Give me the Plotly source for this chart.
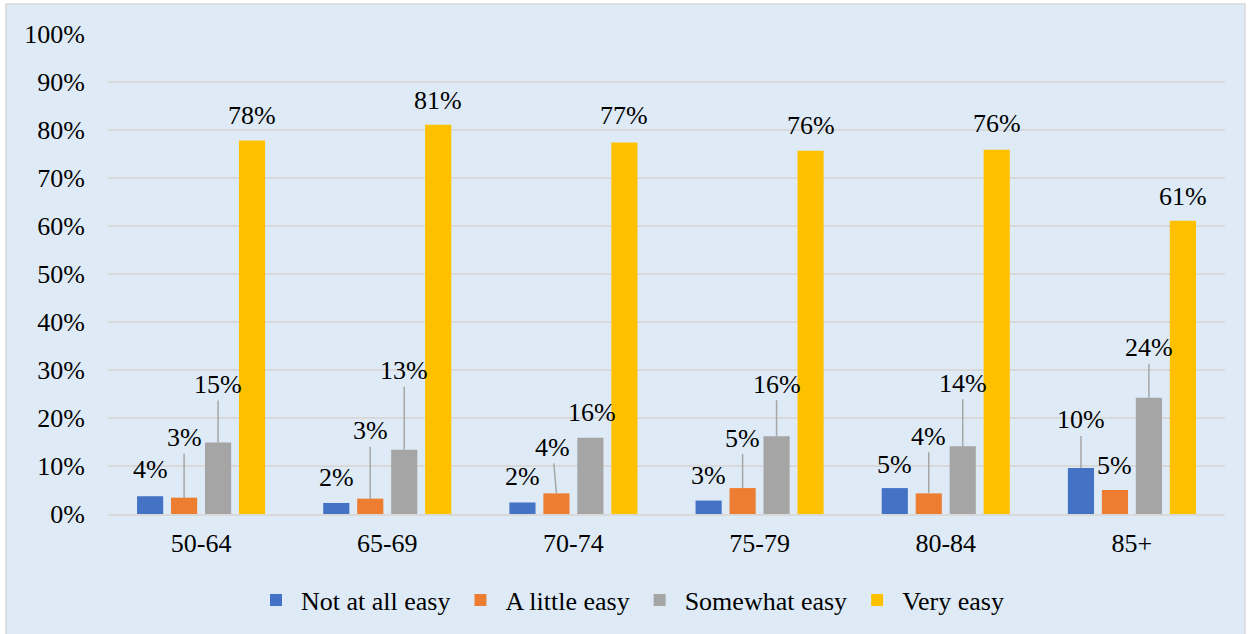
import plotly.graph_objects as go

# ---- data -------------------------------------------------------------
age_groups = ["50-64", "65-69", "70-74", "75-79", "80-84", "85+"]
series_names = ["Not at all easy", "A little easy", "Somewhat easy", "Very easy"]
not_at_all_easy = [3.7, 2.3, 2.4, 2.8, 5.4, 9.6]
a_little_easy = [3.4, 3.2, 4.3, 5.4, 4.3, 5.0]
somewhat_easy = [14.9, 13.4, 15.9, 16.2, 14.1, 24.2]
very_easy = [77.8, 81.1, 77.4, 75.7, 75.9, 61.1]
y_ticks = [0, 10, 20, 30, 40, 50, 60, 70, 80, 90, 100]
y_tick_labels = ["0%", "10%", "20%", "30%", "40%", "50%",
                 "60%", "70%", "80%", "90%", "100%"]

series_values = [not_at_all_easy, a_little_easy, somewhat_easy, very_easy]

# ---- styling ------------------------------------------------------------
colors = ["#4472C4", "#ED7D31", "#A5A5A5", "#FFC000"]
BG = "#DEEBF7"
GRID = "#D9D9D9"
LEADER = "#A6A6A6"
FONT = "'Liberation Serif', 'Times New Roman', Times, serif"
FS = 26

W, H = 1250, 634
M_L, M_R, M_T, M_B = 108, 25, 34, 120
BARGAP = 0.27
GROUPGAP = 0.23

# how far (px) each label floats above its bar, per age group / series
label_lift = [
    [27, 60, 58, 25],
    [25, 68, 79, 24],
    [26, 46, 25, 27],
    [25, 50, 52, 25],
    [24, 57, 63, 26],
    [48, 25, 50, 24],
]
# small sideways nudges (px) for labels that sit off-centre
label_shift = {(2, 1): -4, (2, 2): 2}

fig = go.Figure()
for name, vals, col in zip(series_names, series_values, colors):
    fig.add_trace(go.Bar(
        x=age_groups, y=vals, name=name,
        marker=dict(color=col, line=dict(width=0)),
        hoverinfo="skip",
    ))

# data labels with leader lines when they are lifted far from the bar
n_series = len(series_names)
slot = (1 - BARGAP) / n_series
annotations = []
for i, grp in enumerate(age_groups):
    for j, vals in enumerate(series_values):
        v = vals[i]
        lift = label_lift[i][j]
        xpos = i + (j - (n_series - 1) / 2) * slot
        annotations.append(dict(
            x=xpos, y=v, xref="x", yref="y",
            text=f"{round(v)}%",
            showarrow=True, arrowhead=0, arrowwidth=1.5,
            arrowcolor=LEADER if lift > 36 else "rgba(0,0,0,0)",
            ax=label_shift.get((i, j), 0), ay=-lift,
            font=dict(family=FONT, size=FS, color="#000000"),
        ))

# outer chart frame
pw = W - M_L - M_R
ph = H - M_T - M_B
frame = dict(
    type="rect", xref="paper", yref="paper", layer="below",
    x0=(6 - M_L) / pw, x1=(W - 5 - M_L) / pw,
    y0=(M_T + ph - (H + 10)) / ph, y1=(M_T + ph - 4) / ph,
    fillcolor=BG, line=dict(color=GRID, width=1.5),
)

fig.update_layout(
    width=W, height=H,
    margin=dict(l=M_L, r=M_R, t=M_T, b=M_B, autoexpand=False),
    paper_bgcolor="#FFFFFF",
    plot_bgcolor="rgba(0,0,0,0)",
    barmode="group", bargap=BARGAP, bargroupgap=GROUPGAP,
    font=dict(family=FONT, size=FS, color="#000000"),
    showlegend=True,
    legend=dict(
        orientation="h", x=(630 - M_L) / pw, xanchor="center",
        y=-(600 - (M_T + ph)) / ph, yanchor="middle",
        font=dict(family=FONT, size=FS, color="#000000"),
        bgcolor="rgba(0,0,0,0)", traceorder="normal",
        itemwidth=40,
        itemclick=False, itemdoubleclick=False,
    ),
    xaxis=dict(
        type="category", showgrid=False, showline=True,
        linecolor=GRID, linewidth=1.5, ticks="",
        ticklabelstandoff=5,
        tickfont=dict(family=FONT, size=FS, color="#000000"),
    ),
    yaxis=dict(
        range=[0, 100], tickmode="array",
        tickvals=y_ticks, ticktext=y_tick_labels,
        showgrid=True, gridcolor=GRID, gridwidth=1.5,
        zeroline=False, showline=False, ticks="",
        ticklabelstandoff=22,
        tickfont=dict(family=FONT, size=FS, color="#000000"),
    ),
    shapes=[frame],
    annotations=annotations,
)

fig.write_html("out.html")
